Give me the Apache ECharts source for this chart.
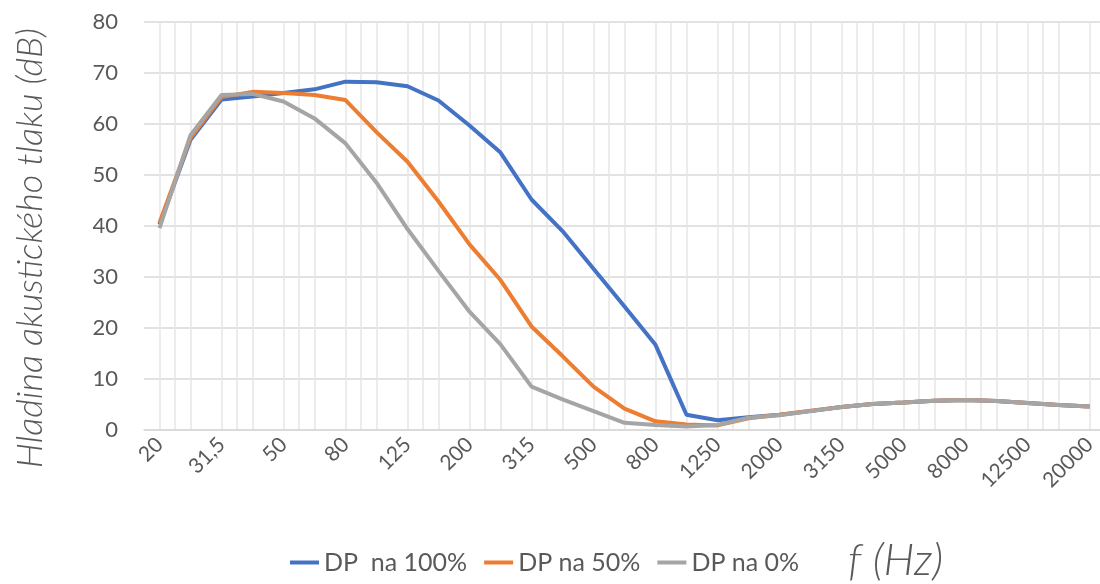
<!DOCTYPE html>
<html><head><meta charset="utf-8">
<script src="https://cdn.jsdelivr.net/npm/echarts@6/dist/echarts.min.js"></script>
<style>html,body{margin:0;padding:0;background:#fff}#c{width:1100px;height:584px}</style>
</head><body><div id="c"></div>
<script>
var categories = ['20','25','31,5','40','50','63','80','100','125','160','200','250','315','400','500','630','800','1000','1250','1600','2000','2500','3150','4000','5000','6300','8000','10000','12500','16000','20000'];
var dp100 = [40.3,56.9,64.8,65.4,66.1,66.8,68.3,68.2,67.4,64.6,59.7,54.4,45.2,39.0,31.6,24.2,16.7,3.0,1.9,2.5,3.0,3.7,4.5,5.1,5.4,5.75,5.9,5.7,5.3,4.9,4.6];
var dp50  = [40.6,57.3,65.3,66.3,66.1,65.7,64.7,58.4,52.6,44.8,36.4,29.4,20.3,14.5,8.5,4.2,1.7,1.1,0.9,2.3,3.0,3.8,4.5,5.1,5.4,5.75,5.9,5.7,5.3,4.9,4.6];
var dp0   = [39.6,57.8,65.7,65.9,64.4,61.1,56.2,48.5,39.4,31.2,23.2,16.8,8.5,6.0,3.7,1.4,1.0,0.7,1.0,2.4,2.9,3.7,4.5,5.1,5.4,5.75,5.9,5.7,5.3,4.9,4.6];
var seriesNames = ['DP  na 100%','DP na 50%','DP na 0%'];
var yTicks = [0,10,20,30,40,50,60,70,80];

function pairs(arr){ return arr.map(function(v,i){ return [i,v]; }); }
var colors = ['#4472C4','#ED7D31','#A5A5A5'];
var font = 'Lato, "Open Sans", sans-serif';
var chart = echarts.init(document.getElementById('c'), null, {renderer:'canvas'});
chart.setOption({
  animation:false,
  backgroundColor:'#fff',
  color: colors,
  grid:{left:144, width:961, top:22, bottom:154, containLabel:false, outerBoundsMode:'none'},
  xAxis:{
    type:'value', min:-0.5, max:30.5, interval:0.5,
    axisLine:{show:true, lineStyle:{color:'#d9d9d9', width:1.5}},
    axisTick:{show:false},
    splitLine:{show:true, lineStyle:{color:['rgba(0,0,0,0)','#e6e6e6','#e6e6e6','#e6e6e6'], width:1.5}},
    axisLabel:{
      rotate:45, margin:11, color:'#595959', fontSize:21, fontFamily:font,
      showMinLabel:true, showMaxLabel:true,
      formatter:function(v){
        var r = Math.round(v*2)/2;
        if (Math.abs(r - Math.round(r)) < 1e-6 && Math.round(r) % 2 === 0 && Math.round(r) >= 0 && Math.round(r) < categories.length) return categories[Math.round(r)];
        return '';
      }
    }
  },
  yAxis:{
    type:'value', min:yTicks[0], max:yTicks[yTicks.length-1], interval:10,
    axisLine:{show:false}, axisTick:{show:false},
    splitLine:{lineStyle:{color:'#d9d9d9', width:1.5}},
    axisLabel:{margin:26, color:'#595959', fontSize:22, fontFamily:font}
  },
  legend:{
    left:290, top:550, padding:0, icon:'rect', itemWidth:29, itemHeight:4, itemGap:17,
    textStyle:{color:'#595959', fontSize:25, fontFamily:font},
    data:seriesNames
  },
  graphic:[
    {type:'text', left:12, top:28, rotation:Math.PI/2, style:{text:'Hladina akustického tlaku (dB)', fill:'#595959', font:'italic 300 36px Lato, sans-serif'}},
    {type:'text', left:848, top:539, style:{text:'f (Hz)', fill:'#595959', font:'italic 300 44px Lato, sans-serif'}}
  ],
  series:[
    {name:seriesNames[0], type:'line', data:pairs(dp100), symbol:'none', lineStyle:{width:4, color:colors[0]}, z:2},
    {name:seriesNames[1], type:'line', data:pairs(dp50), symbol:'none', lineStyle:{width:4, color:colors[1]}, z:3},
    {name:seriesNames[2], type:'line', data:pairs(dp0), symbol:'none', lineStyle:{width:4, color:colors[2]}, z:4}
  ]
});
</script></body></html>
